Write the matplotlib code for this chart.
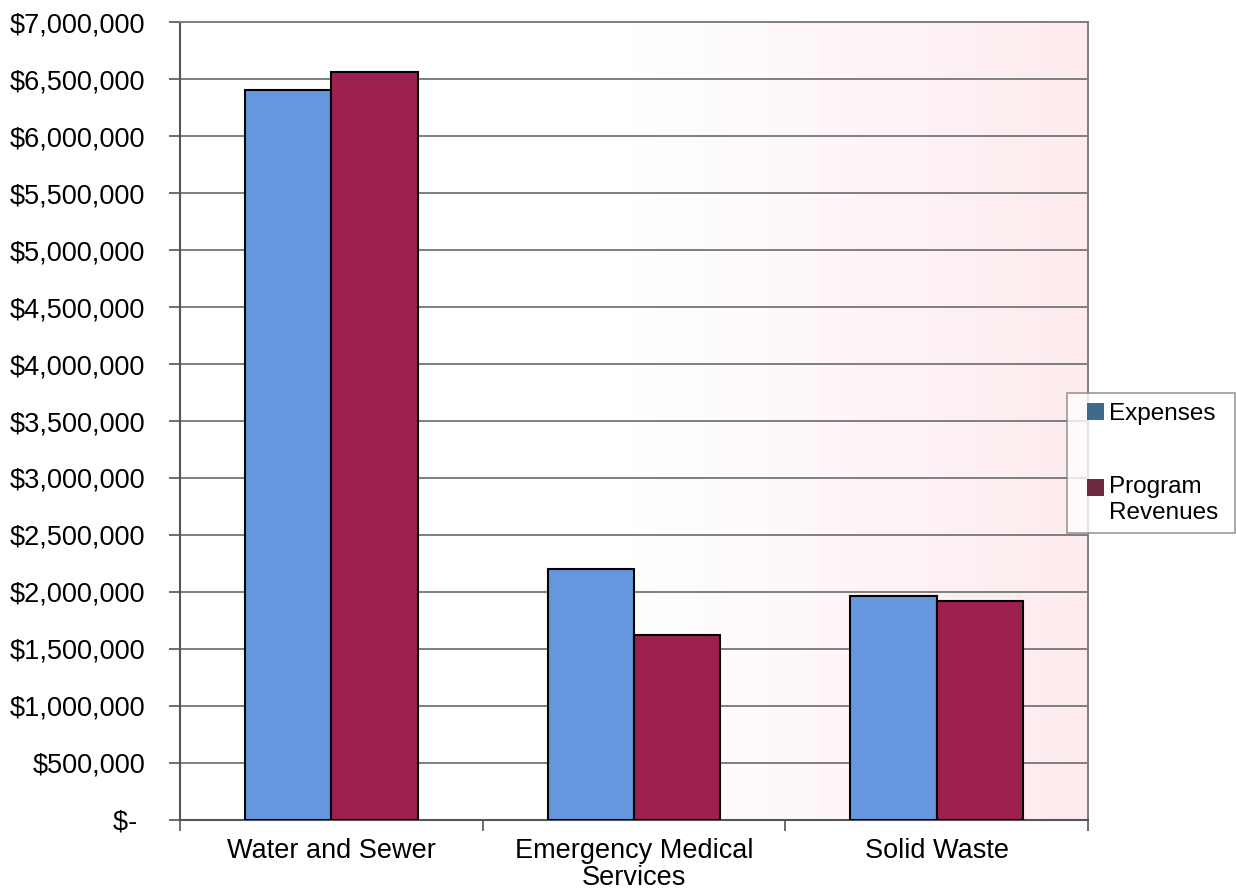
import numpy as np
import matplotlib
matplotlib.use("Agg")
import matplotlib.pyplot as plt
from matplotlib.patches import Patch
from matplotlib.ticker import FuncFormatter

categories = ["Water and Sewer", "Emergency Medical\nServices", "Solid Waste"]
expenses = [6410000, 2200000, 1960000]
program_revenues = [6560000, 1620000, 1920000]
series_labels = ["Expenses", "Program\nRevenues "]

plt.rcParams["font.family"] = ["Liberation Sans", "DejaVu Sans"]

fig = plt.figure(figsize=(12.36, 8.92), dpi=100)
ax = fig.add_axes([0.1456, 0.081, 0.7346, 0.894])

# soft white-to-pink gradient behind the plot
grad = np.linspace(0, 1, 256).reshape(1, -1)
cmap = matplotlib.colors.LinearSegmentedColormap.from_list("bg", ["#ffffff", "#ffffff", "#fdebee"])
ax.imshow(grad, cmap=cmap, aspect="auto", extent=[0, 1, 0, 1],
          transform=ax.transAxes, zorder=0)

x = np.arange(len(categories))
w = 0.285
blue = "#6497dd"
red = "#9c2150"
ax.bar(x - w / 2, expenses, width=w, color=blue, edgecolor="black", linewidth=1.5, zorder=3)
ax.bar(x + w / 2, program_revenues, width=w, color=red, edgecolor="black", linewidth=1.5, zorder=3)

ax.set_xlim(-0.5, len(categories) - 0.5)
ax.set_ylim(0, 7000000)
ax.set_yticks(np.arange(0, 7000001, 500000))

def money(v, pos):
    if v == 0:
        return "$- "
    return "${:,.0f}".format(v)

ax.yaxis.set_major_formatter(FuncFormatter(money))
ax.set_xticks(x)
ax.set_xticklabels(categories, linespacing=1.05)
ax.set_xticks(np.arange(-0.5, len(categories)), minor=True)
ax.tick_params(axis="x", which="major", length=0, pad=13, labelsize=19.5)
ax.tick_params(axis="x", which="minor", length=8, width=1.2, color="#555555", direction="out")
ax.tick_params(axis="y", length=8, width=1.2, color="#555555", labelsize=19.5, pad=17)

ax.grid(axis="y", color="#7f7f7f", linewidth=1.4, zorder=1)
ax.set_axisbelow(True)
for side in ["left", "bottom"]:
    ax.spines[side].set_color("#555555")
    ax.spines[side].set_linewidth(1.5)
for side in ["top", "right"]:
    ax.spines[side].set_color("#808080")
    ax.spines[side].set_linewidth(1.4)

legend_fs = 17.5
handle_len = 1.11
swatch = 0.7 * legend_fs
handles = [Patch(facecolor="#3f6a8e", edgecolor="none"),
           Patch(facecolor="#6b2a42", edgecolor="none")]
leg = fig.legend(handles, series_labels, loc="upper left",
                 bbox_to_anchor=(0.8635, 0.559), fontsize=legend_fs,
                 fancybox=False, frameon=True, edgecolor="#808080",
                 handlelength=handle_len, handleheight=0.7, handletextpad=0.2,
                 labelspacing=2.1, borderpad=0.4, borderaxespad=0)
leg.get_frame().set_linewidth(1.2)
# square swatches sitting next to their labels; the two-line entry's
# swatch lines up with its first line
for i, h in enumerate(leg.legend_handles):
    h.set_x(h.get_x() + handle_len * legend_fs - swatch)
    h.set_width(swatch)
    if i == 1:
        h.set_y(h.get_y() + 9.0)

fig.savefig("out.png", dpi=100, facecolor="white")
